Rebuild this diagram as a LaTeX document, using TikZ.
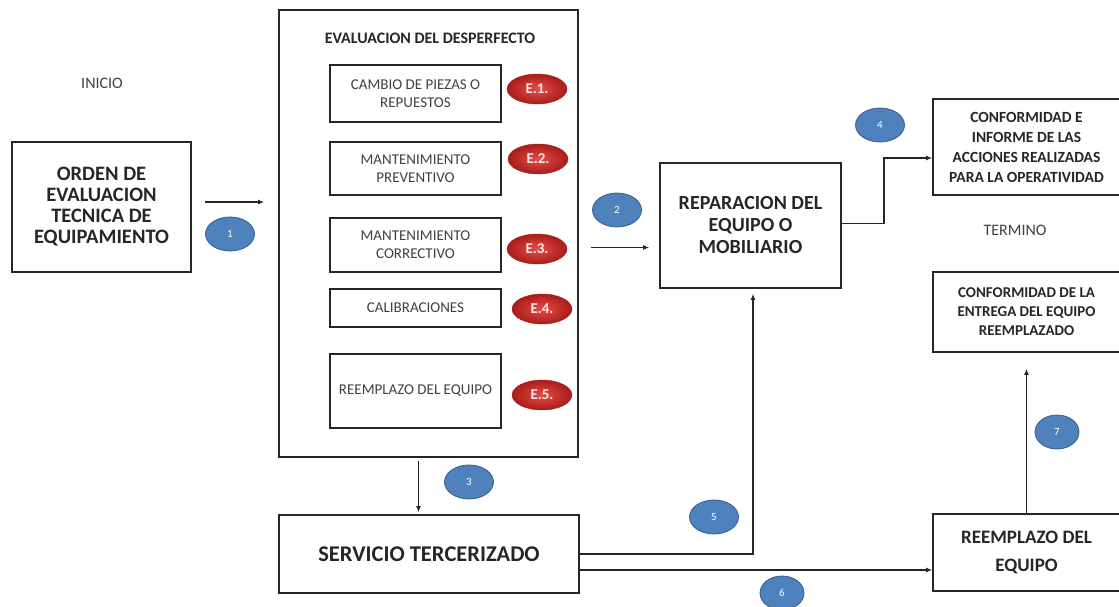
\documentclass[tikz,border=0pt]{standalone}
\usepackage{fontspec}
\setmainfont{Carlito}
\usetikzlibrary{shapes.geometric, arrows.meta, positioning, calc}

\definecolor{numblue}{RGB}{79,129,189}
\definecolor{numedge}{RGB}{56,93,138}
\definecolor{etiqin}{RGB}{228,78,70}
\definecolor{etiqout}{RGB}{168,28,26}
\definecolor{txtgray}{RGB}{64,64,64}

\begin{document}
\begin{tikzpicture}[x=1pt, y=-1pt,
  box/.style={rectangle, draw=black!85, line width=1.6pt, align=center, inner sep=0pt, text=black!85},
  mainbox/.style={box, font=\fontsize{20}{21}\selectfont\bfseries},
  endbox/.style={box, font=\fontsize{15.5}{20}\selectfont\bfseries},
  subbox/.style={box, minimum width=171pt, font=\fontsize{15}{18}\selectfont, text=txtgray},
  etiq/.style={ellipse, draw=etiqout, inner color=etiqin, outer color=etiqout, minimum width=60pt, minimum height=30pt, inner sep=0pt, text=white!90!red, font=\fontsize{15}{16}\selectfont\bfseries},
  num/.style={ellipse, draw=numedge, line width=0.8pt, fill=numblue, minimum width=49pt, minimum height=34pt, inner sep=0pt, text=white, font=\fontsize{11}{12}\selectfont},
  lbl/.style={font=\fontsize{16}{18}\selectfont, text=txtgray},
  arr/.style={-{Latex[length=6pt, width=5pt]}, line width=1.6pt, black!85}
]
\clip (0,0) rectangle (1119,606);

% inicio
\node[lbl] (inicio) at (102,83) {INICIO};
\node[mainbox, font=\fontsize{20.5}{21}\selectfont\bfseries, minimum width=179pt, minimum height=130pt] (orden) at (101.5,207)
  {ORDEN DE\\EVALUACION\\TECNICA DE\\EQUIPAMIENTO};

% evaluacion del desperfecto
\node[box, minimum width=299pt, minimum height=447pt] (eval) at (428.5,233.5) {};
\node[font=\fontsize{16}{18}\selectfont\bfseries, text=black!85] (evaltit) at (430,38) {EVALUACION DEL DESPERFECTO};

\node[subbox, minimum height=57pt] (cambio) at (415.5,93.5) {CAMBIO DE PIEZAS O\\REPUESTOS};
\node[subbox, minimum height=53pt] (prev) at (415.5,168.5) {MANTENIMIENTO\\PREVENTIVO};
\node[subbox, minimum height=54pt] (corr) at (415.5,245) {MANTENIMIENTO\\CORRECTIVO};
\node[subbox, minimum height=38pt] (calib) at (415.5,308) {CALIBRACIONES};
\node[subbox, minimum height=74pt] (reemp) at (415.5,391) {REEMPLAZO DEL EQUIPO};

\node[etiq] (e1) at (537,89) {E.1.};
\node[etiq] (e2) at (538,159) {E.2.};
\node[etiq] (e3) at (537,249) {E.3.};
\node[etiq] (e4) at (542,309) {E.4.};
\node[etiq] (e5) at (542,395) {E.5.};

% reparacion y servicio
\node[mainbox, font=\fontsize{20}{22}\selectfont\bfseries, minimum width=181pt, minimum height=125pt] (repar) at (750.5,225.5)
  {REPARACION DEL\\EQUIPO O\\MOBILIARIO};
\node[mainbox, font=\fontsize{22.5}{24}\selectfont\bfseries, minimum width=300pt, minimum height=78pt] (serv) at (429,554) {SERVICIO TERCERIZADO};

% termino
\node[endbox, minimum width=187pt, minimum height=96pt] (conf1) at (1026.5,147)
  {CONFORMIDAD E\\INFORME DE LAS\\ACCIONES REALIZADAS\\PARA LA OPERATIVIDAD};
\node[lbl] (termino) at (1015,230) {TERMINO};
\node[endbox, font=\fontsize{15}{19}\selectfont\bfseries, minimum width=187pt, minimum height=80pt] (conf2) at (1026.5,312)
  {CONFORMIDAD DE LA\\ENTREGA DEL EQUIPO\\REEMPLAZADO};
\node[mainbox, font=\fontsize{19}{28}\selectfont\bfseries, minimum width=187pt, minimum height=77pt] (reempl) at (1026.5,552.5)
  {REEMPLAZO DEL\\EQUIPO};

% conectores
\draw[arr, shorten <=13pt, shorten >=14pt] ([yshift=5pt]orden.east) -- ([yshift=5pt]orden.east -| eval.west);
\draw[arr, shorten <=12pt, shorten >=10pt] ([yshift=-22pt]repar.west -| eval.east) -- ([yshift=-22pt]repar.west);
\draw[arr, shorten <=3pt, shorten >=2pt] ([xshift=-10pt]eval.south) -- ([xshift=-10pt]eval.south |- serv.north);
\draw[arr] ([yshift=2pt]repar.east) -- ++(42,0) |- ([yshift=-11pt]conf1.west);
\draw[arr, shorten >=5pt] (serv.east) -| ([xshift=2.5pt]repar.south);
\draw[arr] ([yshift=-16pt]serv.east) -- ([yshift=-16pt]serv.east -| reempl.west);
\draw[arr, shorten >=16pt] (reempl.north) -- (conf2.south);

% numeros
\node[num] (n1) at (230,234) {1};
\node[num] (n2) at (617,210) {2};
\node[num] (n3) at (469,482) {3};
\node[num] (n4) at (880,125) {4};
\node[num] (n5) at (714,517) {5};
\node[num, minimum width=44pt] (n6) at (782,593) {6};
\node[num, minimum width=44pt] (n7) at (1057,432) {7};

\end{tikzpicture}
\end{document}
